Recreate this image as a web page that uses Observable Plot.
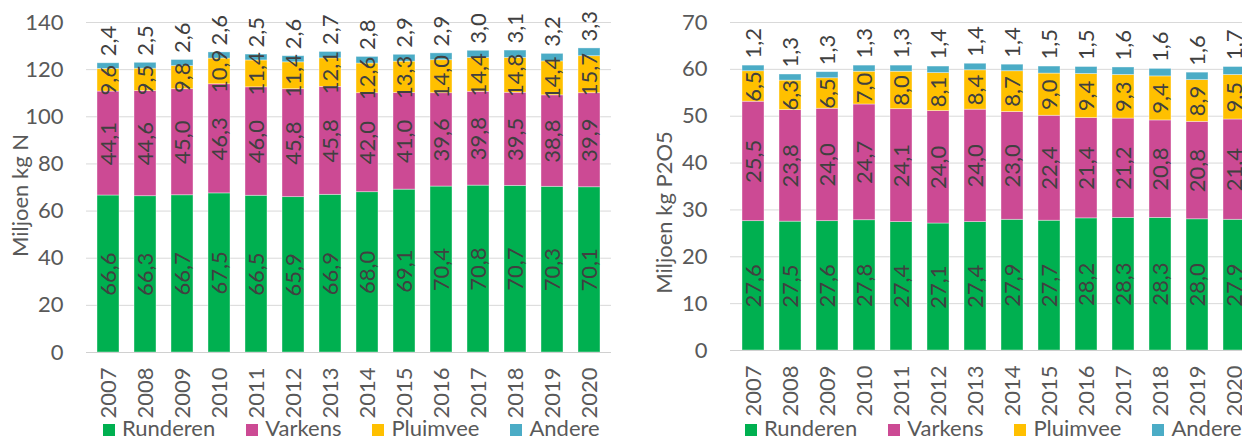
<!DOCTYPE html>
<html>
<head>
<meta charset="utf-8">
<script src="https://cdn.jsdelivr.net/npm/d3@7"></script>
<script src="https://cdn.jsdelivr.net/npm/@observablehq/plot@0.6"></script>
<style>
  html, body { margin: 0; padding: 0; background: #fff; }
  body { width: 1242px; height: 439px; overflow: hidden; position: relative; font-family: Lato, "Open Sans", sans-serif; }
  .panel { position: absolute; top: 0; height: 439px; overflow: visible; }
  .panel svg { max-width: none !important; display: block; }
  .legend { position: absolute; top: 417px; height: 22px; display: flex; align-items: center; gap: 31px; font-size: 22px; color: #595959; white-space: nowrap; }
  .item { display: flex; align-items: center; gap: 7px; line-height: 22px; }
  .sw { width: 12px; height: 12px; display: inline-block; position: relative; top: 2px; }
</style>
</head>
<body>
<div id="left" class="panel" style="left:0px;width:640px"></div>
<div id="right" class="panel" style="left:640px;width:645px"></div>
<script>
const years = ["2007","2008","2009","2010","2011","2012","2013","2014","2015","2016","2017","2018","2019","2020"];
const categories = ["Runderen", "Varkens", "Pluimvee", "Andere"];
const colors = ["#00B050", "#CC4A94", "#FFC000", "#4BACC6"];

// Left chart: Miljoen kg N
const nRunderen = [66.6, 66.3, 66.7, 67.5, 66.5, 65.9, 66.9, 68.0, 69.1, 70.4, 70.8, 70.7, 70.3, 70.1];
const nVarkens  = [44.1, 44.6, 45.0, 46.3, 46.0, 45.8, 45.8, 42.0, 41.0, 39.6, 39.8, 39.5, 38.8, 39.9];
const nPluimvee = [9.6, 9.5, 9.8, 10.9, 11.4, 11.4, 12.1, 12.6, 13.3, 14.0, 14.4, 14.8, 14.4, 15.7];
const nAndere   = [2.4, 2.5, 2.6, 2.6, 2.5, 2.6, 2.7, 2.8, 2.9, 2.9, 3.0, 3.1, 3.2, 3.3];
const nTicks = [0, 20, 40, 60, 80, 100, 120, 140];

// Right chart: Miljoen kg P2O5
const pRunderen = [27.6, 27.5, 27.6, 27.8, 27.4, 27.1, 27.4, 27.9, 27.7, 28.2, 28.3, 28.3, 28.0, 27.9];
const pVarkens  = [25.5, 23.8, 24.0, 24.7, 24.1, 24.0, 24.0, 23.0, 22.4, 21.4, 21.2, 20.8, 20.8, 21.4];
const pPluimvee = [6.5, 6.3, 6.5, 7.0, 8.0, 8.1, 8.4, 8.7, 9.0, 9.4, 9.3, 9.4, 8.9, 9.5];
const pAndere   = [1.2, 1.3, 1.3, 1.3, 1.3, 1.4, 1.4, 1.4, 1.5, 1.5, 1.6, 1.6, 1.6, 1.7];
const pTicks = [0, 10, 20, 30, 40, 50, 60, 70];

const fmt = v => v.toFixed(1).replace(".", ",");
const FS = 22;

function build(series, ticks, ymax, title, opts) {
  const data = [];
  years.forEach((yr, i) => {
    categories.forEach((c, k) => data.push({year: yr, cat: c, value: series[k][i]}));
  });
  const totals = years.map((yr, i) => ({
    year: yr,
    total: series.reduce((s, arr) => s + arr[i], 0),
    label: fmt(series[3][i])
  }));
  return Plot.plot({
    width: opts.width,
    height: 417,
    marginLeft: opts.marginLeft,
    marginRight: 29,
    marginTop: 22,
    marginBottom: opts.marginBottom,
    style: {fontFamily: "Lato, 'Open Sans', sans-serif", fontSize: FS + "px", background: "#fff", overflow: "visible"},
    x: {domain: years, paddingInner: 0.413, paddingOuter: 0.2065},
    y: {domain: [0, ymax]},
    color: {domain: categories, range: colors},
    marks: [
      Plot.gridY(ticks, {stroke: "#d9d9d9", strokeOpacity: 1, strokeWidth: 1}),
      Plot.axisY(ticks, {tickSize: 0, tickPadding: 23, label: null, color: "#595959", fontSize: FS}),
      Plot.axisX({tickRotate: -90, tickSize: 0, tickPadding: 15, label: null, color: "#595959", fontSize: FS}),
      Plot.barY(data, {x: "year", y: "value", fill: "cat", z: "cat", order: categories, stroke: "#ffffff", strokeWidth: 0.75, strokeOpacity: 0.5}),
      Plot.ruleY([0], {stroke: "#d0d0d0", strokeWidth: 1.2}),
      Plot.text(data, Plot.stackY({
        x: "year", y: "value", z: "cat", order: categories,
        text: d => d.cat === "Andere" ? null : fmt(d.value),
        rotate: -90, fill: "#404040", fontSize: FS
      })),
      Plot.text(totals, {x: "year", y: "total", text: "label", rotate: -90, textAnchor: "start", dy: -7, fill: "#404040", fontSize: FS}),
      Plot.text([title], {frameAnchor: "left", text: d => d, rotate: -90, textAnchor: "middle", dx: opts.titleDx, dy: opts.titleDy, fill: "#595959", fontSize: FS})
    ]
  });
}

function legend(left) {
  const div = document.createElement("div");
  div.className = "legend";
  div.style.left = left + "px";
  categories.forEach((c, k) => {
    const it = document.createElement("span");
    it.className = "item";
    const sw = document.createElement("span");
    sw.className = "sw";
    sw.style.background = colors[k];
    const t = document.createElement("span");
    t.textContent = c;
    it.appendChild(sw); it.appendChild(t);
    div.appendChild(it);
  });
  return div;
}

const L = document.getElementById("left");
L.appendChild(build([nRunderen, nVarkens, nPluimvee, nAndere], nTicks, 140, "Miljoen kg N",
  {width: 640, marginLeft: 86, marginBottom: 65, titleDx: -66, titleDy: 8}));
L.appendChild(legend(103));

const R = document.getElementById("right");
R.appendChild(build([pRunderen, pVarkens, pPluimvee, pAndere], pTicks, 70, "Miljoen kg P2O5",
  {width: 645, marginLeft: 90, marginBottom: 67, titleDx: -66, titleDy: 26}));
R.appendChild(legend(105));
</script>
</body>
</html>
